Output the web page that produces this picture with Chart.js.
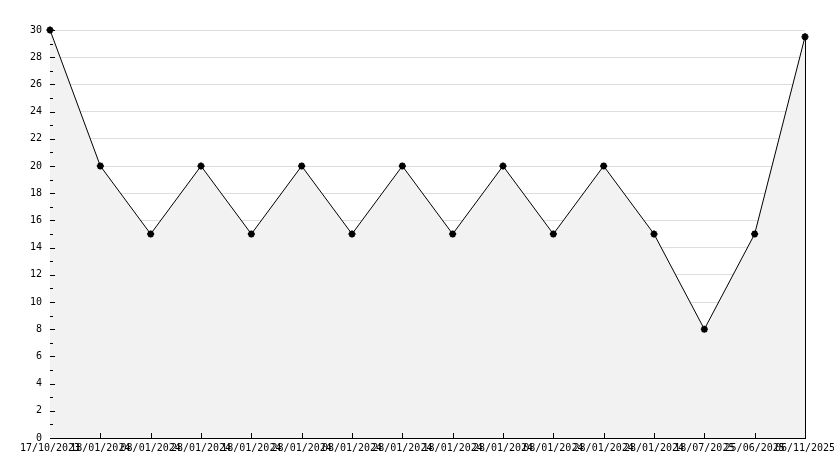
<!DOCTYPE html>
<html>
<head>
<meta charset="utf-8">
<script src="https://cdn.jsdelivr.net/npm/chart.js@4"></script>
<style>
  html, body { margin: 0; padding: 0; background: #ffffff; }
  #wrap { width: 834px; height: 468px; }
</style>
</head>
<body>
<div id="wrap"><canvas id="lineChart" width="834" height="468"></canvas></div>
<script>
// dates along the x axis (they overlap in the original too)
const dateLabels = [
    '17/10/2023', '18/01/2024', '08/01/2024', '28/01/2024',
    '18/01/2024', '28/01/2024', '08/01/2024', '28/01/2024',
    '18/01/2024', '28/01/2024', '08/01/2024', '28/01/2024',
    '28/01/2024', '18/07/2025', '25/06/2025', '06/11/2025'
];
const counts = [30, 20, 15, 20, 15, 20, 15, 20, 15, 20, 15, 20, 15, 8, 15, 29.5];
const yMin = 0;
const yMax = 30;
const yStep = 2;

const FONT = { family: '"DejaVu Sans Mono", monospace', size: 10 };

// ticks are drawn inside the plot area, plus the closing edge of the fill
const innerTicks = {
    id: 'innerTicks',
    afterDatasetsDraw(chart) {
        const { ctx, scales: { x, y }, chartArea } = chart;
        ctx.save();
        ctx.strokeStyle = '#000000';
        ctx.lineWidth = 1;
        ctx.beginPath();
        for (let v = yMin; v <= yMax; v += 1) {
            const py = Math.round(y.getPixelForValue(v)) + 0.5;
            const len = v % yStep === 0 ? 5 : 3;
            ctx.moveTo(chartArea.left, py);
            ctx.lineTo(chartArea.left + len, py);
        }
        for (let i = 1; i < dateLabels.length; i++) {
            const px = Math.round(x.getPixelForValue(i)) + 0.5;
            ctx.moveTo(px, chartArea.bottom);
            ctx.lineTo(px, chartArea.bottom - 5);
        }
        const last = chart.getDatasetMeta(0).data[counts.length - 1];
        const lx = Math.round(last.x) + 0.5;
        ctx.moveTo(lx, last.y);
        ctx.lineTo(lx, chartArea.bottom);
        ctx.stroke();
        ctx.restore();
    }
};

new Chart(document.getElementById('lineChart').getContext('2d'), {
    type: 'line',
    data: {
        labels: dateLabels,
        datasets: [{
            data: counts,
            borderColor: '#000000',
            borderWidth: 1,
            backgroundColor: '#f2f2f2',
            fill: 'origin',
            tension: 0,
            pointStyle: 'star',
            pointRadius: 3.5,
            pointBorderWidth: 2,
            pointBorderColor: '#000000',
            pointBackgroundColor: '#000000',
            clip: false
        }]
    },
    plugins: [innerTicks],
    options: {
        responsive: false,
        animation: false,
        layout: { padding: { top: 30, right: 29, left: 0, bottom: 0 } },
        plugins: {
            legend: { display: false },
            tooltip: { enabled: false }
        },
        scales: {
            x: {
                offset: false,
                afterFit(scale) {
                    scale.height = 30;
                    scale.paddingLeft = 0;
                    scale.paddingRight = 0;
                },
                grid: { display: false, drawTicks: false },
                border: { color: '#000000', width: 1 },
                ticks: {
                    font: FONT,
                    color: '#000000',
                    maxRotation: 0,
                    autoSkip: false,
                    padding: 4
                }
            },
            y: {
                min: yMin,
                max: yMax,
                afterFit(scale) { scale.width = 50; },
                grid: { color: '#dddddd', drawTicks: false },
                border: { color: '#000000', width: 1 },
                ticks: {
                    stepSize: yStep,
                    font: FONT,
                    color: '#000000',
                    padding: 8
                }
            }
        }
    }
});
</script>
</body>
</html>
